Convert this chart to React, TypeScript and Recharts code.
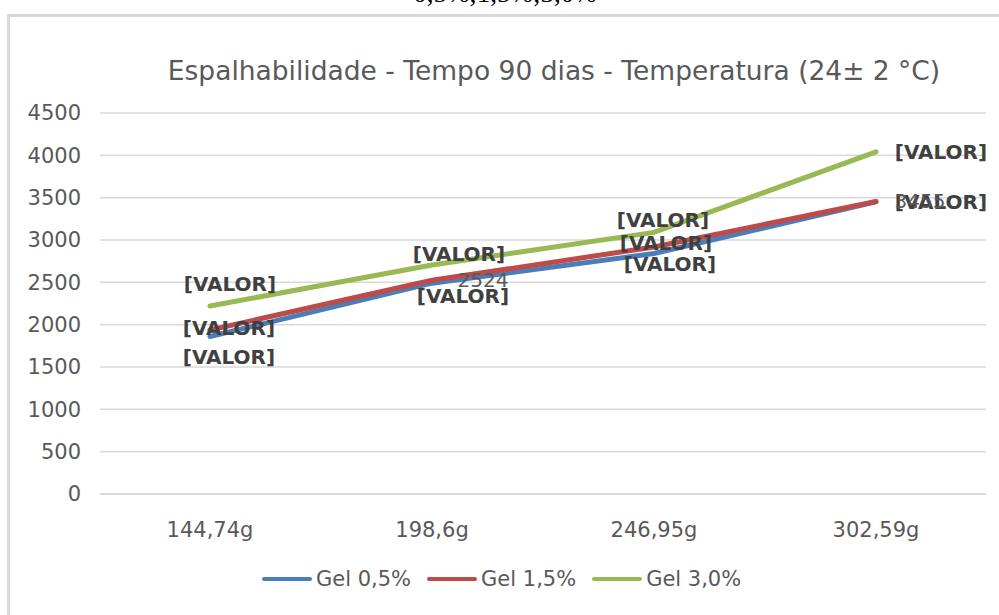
import React from 'react';
import { LineChart, Line, XAxis, YAxis, CartesianGrid, LabelList } from 'recharts';

const CATEGORIES = ['144,74g', '198,6g', '246,95g', '302,59g'];
const GEL_05 = [1860, 2490, 2840, 3452];
const GEL_15 = [1937, 2524, 2917, 3455];
const GEL_30 = [2220, 2705, 3090, 4040];
const Y_TICKS = [0, 500, 1000, 1500, 2000, 2500, 3000, 3500, 4000, 4500];

const LABELS_05 = ['[VALOR]', '[VALOR]', '[VALOR]', '[VALOR]'];
const LABELS_15 = ['[VALOR]', '2524', '[VALOR]', '3455'];
const LABELS_30 = ['[VALOR]', '[VALOR]', '[VALOR]', '[VALOR]'];

const TITLE = 'Espalhabilidade - Tempo 90 dias - Temperatura (24± 2 °C)';
const CAPTION = '0,5%;1,5%;3,0%';

// where Excel left each data label, relative to its point
const OFFSETS_05 = [[19, 20], [31, 13], [16, 10], [65, 0]];
const OFFSETS_15 = [[19, -2], [51, 0], [12, -4], [44, 0]];
const OFFSETS_30 = [[20, -22], [27, -11], [9, -12], [65, 0]];

const FONT = '"DejaVu Sans", sans-serif';

const data = CATEGORIES.map((cat, i) => ({
  cat,
  g05: GEL_05[i],
  g15: GEL_15[i],
  g30: GEL_30[i],
}));

const series = [
  { key: 'g05', name: 'Gel 0,5%', color: '#4a7ebb', labels: LABELS_05, offsets: OFFSETS_05 },
  { key: 'g15', name: 'Gel 1,5%', color: '#be4b48', labels: LABELS_15, offsets: OFFSETS_15 },
  { key: 'g30', name: 'Gel 3,0%', color: '#98b954', labels: LABELS_30, offsets: OFFSETS_30 },
];

function makeLabel(texts: string[], offsets: number[][]) {
  return (props: any) => {
    const { x, y, index } = props;
    const txt = texts[index];
    const [dx, dy] = offsets[index];
    const placeholder = txt.startsWith('[');
    return (
      <text
        x={x + dx}
        y={y + dy}
        textAnchor="middle"
        dominantBaseline="central"
        fontFamily={FONT}
        fontSize={20}
        fontWeight={placeholder ? 700 : 400}
        fill={placeholder ? '#404040' : '#595959'}
      >
        {txt}
      </text>
    );
  };
}

export default function App() {
  return (
    <div style={{ position: 'absolute', left: 0, top: 0, width: 999, height: 615, overflow: 'hidden', background: '#fff' }}>
      <div
        style={{
          position: 'absolute',
          left: 0,
          width: 1010,
          top: -22,
          textAlign: 'center',
          fontFamily: '"Liberation Serif", serif',
          fontSize: 27,
          lineHeight: '30px',
          color: '#000',
        }}
      >
        {CAPTION}
      </div>
      <div
        style={{
          position: 'absolute',
          left: 7,
          top: 14,
          width: 1010,
          height: 620,
          border: '3px solid #d9d9d9',
          boxSizing: 'border-box',
        }}
      />
      <div
        style={{
          position: 'absolute',
          left: 150,
          top: 55,
          width: 808,
          textAlign: 'center',
          fontFamily: FONT,
          fontSize: 26.5,
          color: '#595959',
          whiteSpace: 'nowrap',
        }}
      >
        {TITLE}
      </div>
      <div style={{ position: 'absolute', left: 0, top: 0 }}>
        <LineChart width={999} height={615} data={data} margin={{ top: 113, right: 13, bottom: 81, left: 0 }}>
          <CartesianGrid vertical={false} stroke="#d9d9d9" strokeWidth={1.5} />
          <XAxis
            dataKey="cat"
            axisLine={{ stroke: '#d9d9d9', strokeWidth: 2 }}
            tickLine={false}
            tickMargin={22}
            height={40}
            padding={{ left: 110, right: 110 }}
            tick={{ fill: '#595959', fontSize: 21, fontFamily: FONT }}
          />
          <YAxis
            domain={[0, 4500]}
            ticks={Y_TICKS}
            width={100}
            axisLine={false}
            tickLine={false}
            tickMargin={13}
            tick={{ fill: '#595959', fontSize: 21, fontFamily: FONT }}
          />
          {series.map((s) => (
            <Line
              key={s.key}
              dataKey={s.key}
              name={s.name}
              stroke={s.color}
              strokeWidth={5}
              dot={false}
              type="linear"
              strokeLinecap="round"
              isAnimationActive={false}
            >
              <LabelList dataKey={s.key} content={makeLabel(s.labels, s.offsets)} />
            </Line>
          ))}
        </LineChart>
      </div>
      <div
        style={{
          position: 'absolute',
          left: 262,
          top: 567,
          display: 'flex',
          alignItems: 'center',
          fontFamily: FONT,
          fontSize: 21,
          color: '#595959',
        }}
      >
        {series.map((s) => (
          <div key={s.key} style={{ display: 'flex', alignItems: 'center', marginRight: 16 }}>
            <div style={{ width: 50, height: 4, borderRadius: 2, background: s.color, marginRight: 4 }} />
            <span>{s.name}</span>
          </div>
        ))}
      </div>
    </div>
  );
}
